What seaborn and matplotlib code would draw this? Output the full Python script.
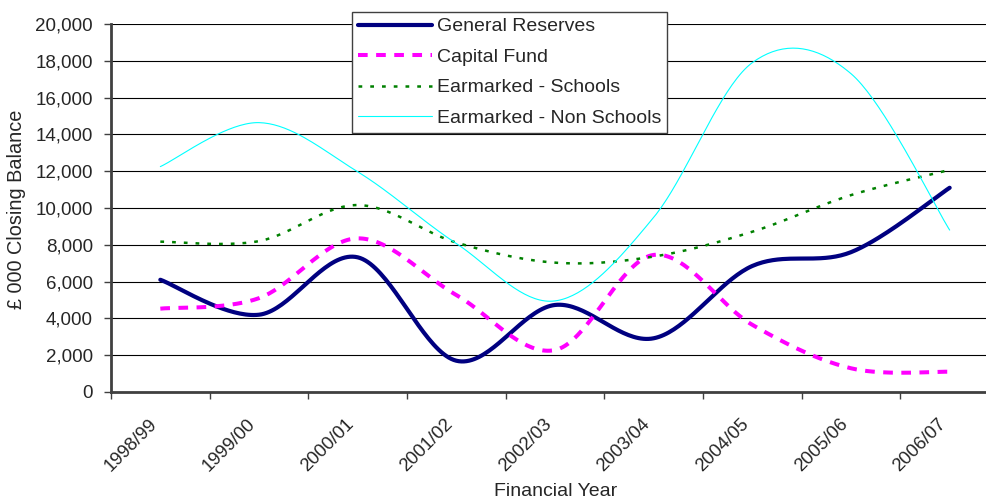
import numpy as np
import pandas as pd
import matplotlib
matplotlib.use("Agg")
import matplotlib.pyplot as plt
import seaborn as sns
from matplotlib.ticker import FuncFormatter, FixedLocator, MultipleLocator

# ---- data (closing balance, £000) ----
years = ["1998/99", "1999/00", "2000/01", "2001/02", "2002/03",
         "2003/04", "2004/05", "2005/06", "2006/07"]
general_reserves = [6100, 4200, 7320, 1700, 4730, 2920, 6850, 7600, 11100]
capital_fund = [4530, 5100, 8350, 5270, 2280, 7450, 3650, 1290, 1100]
earmarked_schools = [8170, 8200, 10160, 8120, 7030, 7360, 8710, 10700, 12070]
earmarked_non_schools = [12250, 14640, 11970, 8070, 4950, 9490, 17900, 17300, 8800]

series_names = ["General Reserves", "Capital Fund",
                "Earmarked - Schools", "Earmarked - Non Schools"]

sns.set_style("white")
plt.rcParams["font.family"] = ["Liberation Sans", "DejaVu Sans"]


def smooth(xv, yv, n=40):
    """Excel-like smoothed line (Catmull-Rom Bezier through the points)."""
    P = np.column_stack([xv, yv]).astype(float)
    Pe = np.vstack([P[0], P, P[-1]])
    t = np.linspace(0, 1, n)[:, None]
    out = []
    for i in range(len(P) - 1):
        p0, p1, p2, p3 = Pe[i], Pe[i + 1], Pe[i + 2], Pe[i + 3]
        c1 = p1 + (p2 - p0) / 6.0
        c2 = p2 - (p3 - p1) / 6.0
        seg = ((1 - t) ** 3) * p1 + 3 * ((1 - t) ** 2) * t * c1 \
            + 3 * (1 - t) * t ** 2 * c2 + t ** 3 * p2
        out.append(seg if i == 0 else seg[1:])
    s = np.vstack(out)
    return s[:, 0], s[:, 1]


W, H = 986, 503
fig = plt.figure(figsize=(W / 100, H / 100), dpi=100)
ax = fig.add_axes([111 / W, (H - 392) / H, 888 / W, 368 / H])

xpos = np.arange(len(years))
styles = [
    dict(color="#000080", lw=3.0, ls="-"),
    dict(color="#FF00FF", lw=2.9, ls=(0, (2.4, 2.1))),
    dict(color="#008000", lw=1.8, ls=(0, (1.5, 3.2))),
    dict(color="#00FFFF", lw=0.8, ls="-"),
]
all_values = [general_reserves, capital_fund, earmarked_schools, earmarked_non_schools]

for name, vals, st in zip(series_names, all_values, styles):
    sx, sy = smooth(xpos, vals)
    df = pd.DataFrame({"x": sx, "y": sy})
    sns.lineplot(data=df, x="x", y="y", ax=ax, sort=False, estimator=None,
                 color=st["color"], linewidth=st["lw"], linestyle=st["ls"],
                 label=name, legend=False)
for ln in ax.get_lines():
    ln.set_dash_capstyle("butt")
    ln.set_solid_capstyle("round")

ax.set_xlim(-0.5, len(years) - 0.5)
ax.set_ylim(0, 20000)
ax.yaxis.set_major_locator(MultipleLocator(2000))
ax.yaxis.set_major_formatter(FuncFormatter(lambda v, p: f"{int(v):,}"))
ax.grid(axis="y", color="#000000", lw=0.8)
ax.grid(axis="x", visible=False)
ax.set_axisbelow(True)

ax.xaxis.set_major_locator(FixedLocator(xpos))
ax.set_xticklabels(years, rotation=45, ha="right", va="top")
ax.xaxis.set_minor_locator(FixedLocator(np.arange(-0.5, len(years), 1.0)))
ax.tick_params(axis="x", which="major", length=0, pad=17, labelsize=13.3)
ax.tick_params(axis="x", which="minor", length=5, width=1, color="#404040",
               direction="out", bottom=True)
ax.tick_params(axis="y", length=5, width=1, color="#404040", direction="out",
               pad=8, labelsize=13.5, left=True)

for side in ["top", "right"]:
    ax.spines[side].set_visible(False)
for side in ["left", "bottom"]:
    ax.spines[side].set_color("#404040")
    ax.spines[side].set_linewidth(2)

ax.set_xlabel("")
ax.set_ylabel("")
fig.text(556 / W, 1 - 492 / H, "Financial Year", ha="center", va="center", fontsize=14)
fig.text(16.5 / W, 1 - 209 / H, "£ 000 Closing Balance", ha="center", va="center",
         rotation=90, fontsize=14.3)

handles = ax.get_lines()[:4]
leg = fig.legend(handles, series_names, loc="upper left",
                 bbox_to_anchor=(352 / W, 1 - 12 / H), fontsize=14,
                 frameon=True, fancybox=False, shadow=False,
                 handlelength=3.8, handletextpad=0.27, labelspacing=0.66,
                 borderpad=0.3, borderaxespad=0)
leg.get_frame().set_edgecolor("#404040")
leg.get_frame().set_linewidth(1.0)
leg.get_frame().set_facecolor("white")
leg.get_frame().set_alpha(1)

fig.savefig("out.png", dpi=100)
